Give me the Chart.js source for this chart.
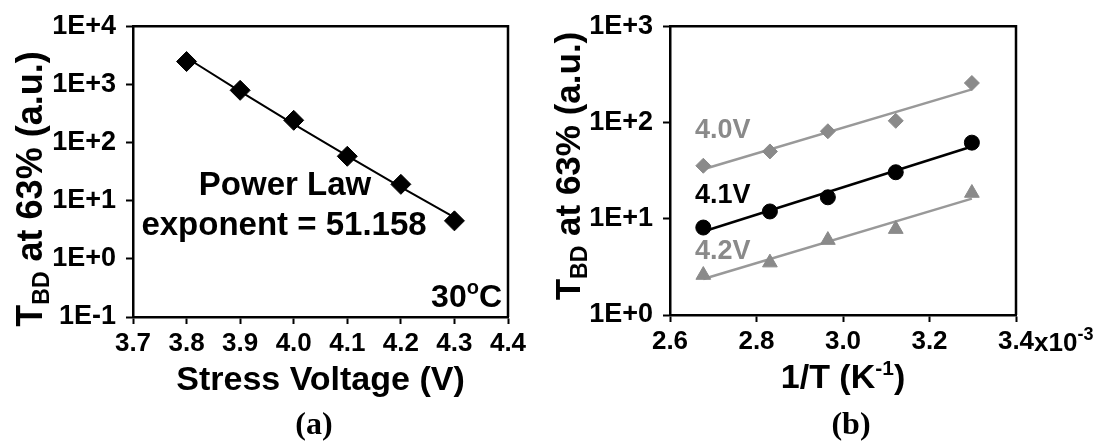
<!DOCTYPE html>
<html>
<head>
<meta charset="utf-8">
<script src="https://cdn.jsdelivr.net/npm/chart.js@4.4.1/dist/chart.umd.min.js"></script>
<style>
  html, body { margin: 0; padding: 0; background: #fff; }
  body { width: 1113px; height: 442px; position: relative; overflow: hidden; }
  canvas { position: absolute; top: 0; }
  #panelA { left: 0; }
  #panelB { left: 540px; }
</style>
</head>
<body>
<canvas id="panelA" width="540" height="442"></canvas>
<canvas id="panelB" width="573" height="442"></canvas>
<script>
// ---- Panel (a): time to breakdown vs stress voltage, 30 °C ----
const stressVoltage = [3.8, 3.9, 4.0, 4.1, 4.2, 4.3];
const tbdByVoltage  = [2470, 790, 241, 58, 19.1, 4.5];
const powerLawExponent = 51.158;
const voltageTicks = [3.7, 3.8, 3.9, 4.0, 4.1, 4.2, 4.3, 4.4];
const tbdTicksA    = [0.1, 1, 10, 100, 1000, 10000];

// ---- Panel (b): time to breakdown vs inverse temperature (units of 1e-3 K^-1) ----
const invTemp  = [2.677, 2.831, 2.965, 3.122, 3.298];
const tbd40V   = [35.5, 50, 81, 104, 257];
const tbd41V   = [8.1, 11.9, 16.7, 30.4, 61.7];
const tbd42V   = [2.6, 3.5, 6.0, 7.8, 18.5];
const invTempTicks = [2.6, 2.8, 3.0, 3.2, 3.4];
const tbdTicksB    = [1, 10, 100, 1000];

const SANS  = '"Liberation Sans", Arial, Helvetica, sans-serif';
const SERIF = '"Liberation Serif", "Times New Roman", serif';
const GRAY  = '#8a8a8a';
const TICK_SIZE = 26, Y_TICK_SIZE = 27, TICK_LEN = 7, X_TICK_PAD = 4;

const font = (size, family = SANS) => `bold ${size}px ${family}`;
const mean = a => a.reduce((s, v) => s + v, 0) / a.length;

// Power-law trend line with the quoted exponent, prefactor from the data
const logPrefactor = mean(tbdByVoltage.map((t, i) => Math.log10(t) + powerLawExponent * Math.log10(stressVoltage[i])));
const powerFit = stressVoltage.map(v => ({ x: v, y: Math.pow(10, logPrefactor - powerLawExponent * Math.log10(v)) }));

// Arrhenius (exponential) trend line: least squares of log10(t) against 1/T
function arrheniusFit(xs, ys) {
  const ly = ys.map(Math.log10);
  const mx = mean(xs), my = mean(ly);
  let sxy = 0, sxx = 0;
  xs.forEach((x, i) => { sxy += (x - mx) * (ly[i] - my); sxx += (x - mx) * (x - mx); });
  const slope = sxy / sxx;
  const ends = [xs[0], xs[xs.length - 1]];
  return ends.map(x => ({ x, y: Math.pow(10, my + slope * (x - mx)) }));
}

const pts = (xs, ys) => xs.map((x, i) => ({ x, y: ys[i] }));
const expLabel = v => { const e = Math.round(Math.log10(v)); return '1E' + (e < 0 ? '-' : '+') + Math.abs(e); };

// Text made of runs with different sizes / vertical offsets (sub- and superscripts)
function richWidth(ctx, parts) {
  let w = 0;
  for (const p of parts) { ctx.font = font(p.size, p.family); w += ctx.measureText(p.text).width; }
  return w;
}
function drawRich(ctx, parts, x, y, align, color) {
  const w = richWidth(ctx, parts);
  let cx = align === 'center' ? x - w / 2 : align === 'right' ? x - w : x;
  ctx.save();
  ctx.textAlign = 'left';
  ctx.textBaseline = 'alphabetic';
  for (const p of parts) {
    ctx.font = font(p.size, p.family);
    ctx.fillStyle = p.color || color || '#000';
    ctx.fillText(p.text, cx, y + (p.dy || 0));
    cx += ctx.measureText(p.text).width;
  }
  ctx.restore();
}

function xScaleOpts(ticks, min, max, height, fmt) {
  return {
    type: 'linear', min, max,
    border: { display: true, color: '#000', width: 2.5 },
    grid: { display: true, drawOnChartArea: false, drawTicks: true, tickLength: TICK_LEN, tickWidth: 2, tickColor: '#000' },
    ticks: { color: '#000', font: { family: SANS, size: TICK_SIZE, weight: 'bold' }, padding: X_TICK_PAD,
             autoSkip: false, maxRotation: 0, minRotation: 0, callback: fmt },
    afterBuildTicks: s => { s.ticks = ticks.map(v => ({ value: v })); },
    afterFit: s => { s.height = height; }
  };
}
function yScaleOpts(ticks, min, max, width) {
  return {
    type: 'logarithmic', min, max,
    border: { display: true, color: '#000', width: 2.5 },
    grid: { display: true, drawOnChartArea: false, drawTicks: true, tickLength: TICK_LEN, tickWidth: 2, tickColor: '#000' },
    ticks: { color: '#000', font: { family: SANS, size: Y_TICK_SIZE, weight: 'bold' }, padding: 10,
             autoSkip: false, callback: v => expLabel(v) },
    afterBuildTicks: s => { s.ticks = ticks.map(v => ({ value: v })); },
    afterFit: s => { s.width = width; }
  };
}

// Closes the plot frame (top and right edges)
function drawFrame(ctx, a) {
  ctx.save();
  ctx.strokeStyle = '#000';
  ctx.lineWidth = 2.5;
  ctx.beginPath();
  ctx.moveTo(a.left, a.top);
  ctx.lineTo(a.right, a.top);
  ctx.lineTo(a.right, a.bottom);
  ctx.stroke();
  ctx.restore();
}

function drawYTitle(ctx, baselineX, centerY, size) {
  const parts = [
    { text: 'T', size },
    { text: 'BD', size: Math.round(size * 0.65), dy: 7 },
    { text: ' at 63% (a.u.)', size }
  ];
  ctx.save();
  ctx.translate(baselineX, centerY);
  ctx.rotate(-Math.PI / 2);
  drawRich(ctx, parts, 0, 0, 'center');
  ctx.restore();
}

const common = {
  responsive: false,
  animation: false,
  devicePixelRatio: 1,
  plugins: { legend: { display: false }, tooltip: { enabled: false } }
};

// ---------------- Panel (a) ----------------
new Chart(document.getElementById('panelA'), {
  type: 'scatter',
  data: {
    datasets: [
      { data: pts(stressVoltage, tbdByVoltage), pointStyle: 'rectRot', pointRadius: 10,
        backgroundColor: '#000', borderColor: '#000', borderWidth: 1, showLine: false, order: 0 },
      { data: powerFit, showLine: true, borderColor: '#000', borderWidth: 2, pointRadius: 0, order: 1 }
    ]
  },
  options: Object.assign({}, common, {
    layout: { padding: { top: 15, right: 32, left: 0, bottom: 0 } },
    scales: {
      x: xScaleOpts(voltageTicks, 3.7, 4.4, 125, v => Number(v).toFixed(1)),
      y: yScaleOpts(tbdTicksA, 0.1, 10000, 133)
    }
  }),
  plugins: [{
    id: 'panelADecor',
    afterDraw(chart) {
      const ctx = chart.ctx, a = chart.chartArea;
      drawFrame(ctx, a);
      drawYTitle(ctx, 42, 189, 36);
      drawRich(ctx, [{ text: 'Stress Voltage (V)', size: 34 }], (a.left + a.right) / 2, 390, 'center');
      drawRich(ctx, [{ text: 'Power Law', size: 33 }], 285, 195, 'center');
      drawRich(ctx, [{ text: 'exponent = 51.158', size: 33 }], 284, 235, 'center');
      drawRich(ctx, [{ text: '30', size: 32 }, { text: 'o', size: 20, dy: -13 }, { text: 'C', size: 32 }],
               a.right - 6, 307, 'right');
      drawRich(ctx, [{ text: '(a)', size: 32, family: SERIF }], 314, 434, 'center');
    }
  }]
});

// ---------------- Panel (b) ----------------
new Chart(document.getElementById('panelB'), {
  type: 'scatter',
  data: {
    datasets: [
      { data: pts(invTemp, tbd40V), pointStyle: 'rectRot', pointRadius: 7.5,
        backgroundColor: GRAY, borderColor: GRAY, borderWidth: 1, showLine: false, order: 0 },
      { data: pts(invTemp, tbd41V), pointStyle: 'circle', pointRadius: 7.5,
        backgroundColor: '#000', borderColor: '#000', borderWidth: 1, showLine: false, order: 0 },
      { data: pts(invTemp, tbd42V), pointStyle: 'triangle', pointRadius: 8.5,
        backgroundColor: GRAY, borderColor: GRAY, borderWidth: 1, showLine: false, order: 0 },
      { data: arrheniusFit(invTemp, tbd40V), showLine: true, borderColor: '#999', borderWidth: 2.5, pointRadius: 0, order: 1 },
      { data: arrheniusFit(invTemp, tbd41V), showLine: true, borderColor: '#000', borderWidth: 2.5, pointRadius: 0, order: 1 },
      { data: arrheniusFit(invTemp, tbd42V), showLine: true, borderColor: '#999', borderWidth: 2.5, pointRadius: 0, order: 1 }
    ]
  },
  options: Object.assign({}, common, {
    layout: { padding: { top: 15, right: 97, left: 0, bottom: 0 } },
    scales: {
      x: xScaleOpts(invTempTicks, 2.6, 3.4, 127, v => Number(v).toFixed(1)),
      y: yScaleOpts(tbdTicksB, 1, 1000, 130)
    }
  }),
  plugins: [{
    id: 'panelBDecor',
    afterDraw(chart) {
      const ctx = chart.ctx, a = chart.chartArea, xs = chart.scales.x;
      drawFrame(ctx, a);
      drawYTitle(ctx, 40, 166, 35);
      // multiplier written after the last tick label
      ctx.font = font(TICK_SIZE);
      const lastTick = invTempTicks[invTempTicks.length - 1];
      const lx = xs.getPixelForValue(lastTick) + ctx.measureText(lastTick.toFixed(1)).width / 2;
      const tickBase = a.bottom + TICK_LEN + X_TICK_PAD + TICK_SIZE * 0.6 + TICK_SIZE * 0.35;
      drawRich(ctx, [{ text: 'x10', size: TICK_SIZE }, { text: '-3', size: 18, dy: -11 }], lx, tickBase, 'left');
      drawRich(ctx, [{ text: '1/T (K', size: 34 }, { text: '-1', size: 21, dy: -13 }, { text: ')', size: 34 }],
               (a.left + a.right) / 2, 388, 'center');
      drawRich(ctx, [{ text: '4.0V', size: 27 }], 155, 138, 'left', GRAY);
      drawRich(ctx, [{ text: '4.1V', size: 27 }], 155, 203, 'left', '#000');
      drawRich(ctx, [{ text: '4.2V', size: 27 }], 155, 259, 'left', GRAY);
      drawRich(ctx, [{ text: '(b)', size: 32, family: SERIF }], 311, 434, 'center');
    }
  }]
});
</script>
</body>
</html>
